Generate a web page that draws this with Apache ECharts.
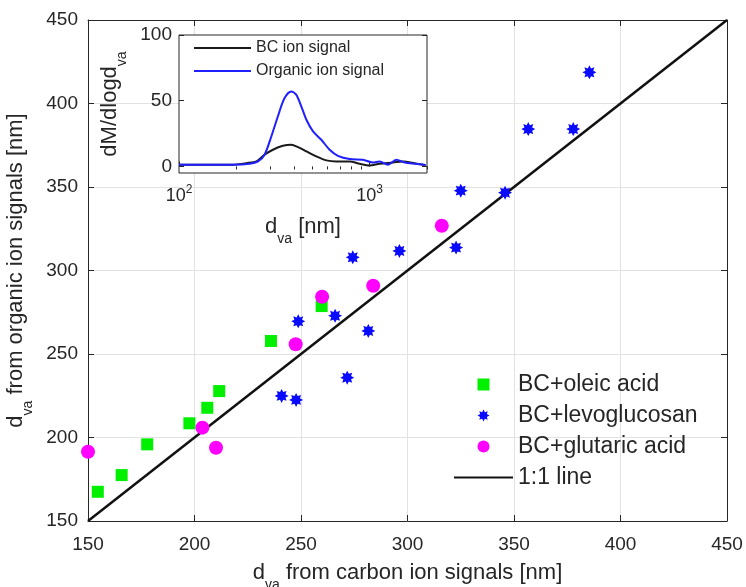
<!DOCTYPE html>
<html><head><meta charset="utf-8">
<script src="https://cdn.jsdelivr.net/npm/echarts@6/dist/echarts.min.js"></script>
<style>html,body{margin:0;padding:0;background:#fff}#c{width:746px;height:587px}</style>
</head><body><div id="c"></div>
<script>
// ---- data ----
const oleicAcid = [[154.6,167.5],[165.8,177.5],[177.8,195.9],[197.6,208.5],[206.0,217.8],[211.6,227.8],[235.9,257.8],[259.7,278.7]];
const levoglucosan = [[240.9,224.9],[247.7,222.5],[271.7,235.8],[248.7,269.6],[266.0,272.9],[281.6,263.8],[274.3,307.9],[296.2,311.7],[322.8,313.7],[325.0,347.8],[345.8,346.6],[356.7,384.7],[377.8,384.7],[385.4,418.7]];
const glutaricAcid = [[150,191.5],[203.7,205.9],[210.1,193.9],[247.5,255.8],[259.9,284.3],[283.9,290.9],[316.1,326.8]];
const oneToOne = [[150,150],[450,450]];

const bcSignal = [[100,1.3],[192,1.3],[225,2.5],[255,3.8],[281,8.9],[311,12.7],[351,15.7],[388,16.5],[421,14.7],[466,11.4],[525,7.6],[593,4.6],[668,3.8],[785,3.8],[887,2.0],[1000,0.8],[1128,2.0],[1325,3.0],[1496,3.8],[1759,2.0],[1967,1.0]];
const organicSignal = [[100,1.3],[139,1.3],[192,1.3],[235,2.0],[260,3.8],[281,8.9],[305,22.8],[330,38],[358,52],[388,57],[412,54.6],[438,45.7],[466,35.5],[505,26.6],[558,20.3],[617,12.7],[682,8.1],[785,5.6],[922,5.1],[1040,3.0],[1128,3.8],[1247,1.3],[1380,5.1],[1528,3.0],[1759,2.0],[1967,1.0]];
const insetMajorX = [100,1000];
const insetMinorX = [200,300,400,500,600,700,800,900,2000];
const insetYTicks = [0,50,100];

// ---- styling helpers ----
const FONT = 'Liberation Sans, Arial, sans-serif';
const TXT = '#262626';
function starPath(n, rOut, rIn){
  let d = '';
  for (let i = 0; i < 2*n; i++){
    const a = i*Math.PI/n - Math.PI/2;
    const r = (i % 2) ? rIn : rOut;
    d += (i ? 'L' : 'M') + (r*Math.cos(a)).toFixed(3) + ' ' + (r*Math.sin(a)).toFixed(3);
  }
  return 'path://' + d + 'Z';
}
const SQUARE = 'path://M0 0L10 0L10 10L0 10Z';
const titleRich = {
  n: {fontSize: 22, lineHeight: 38, verticalAlign: 'middle', color: TXT, fontFamily: FONT},
  s: {fontSize: 14, lineHeight: 14, verticalAlign: 'bottom', color: TXT, fontFamily: FONT}
};

const chart = echarts.init(document.getElementById('c'), null, {renderer: 'canvas'});
const option = {
  animation: false,
  backgroundColor: '#fff',
  textStyle: {fontFamily: FONT},
  grid: [
    {left: 88, right: 19, top: 20, bottom: 66, show: false, containLabel: false, outerBoundsMode: 'none'},
    {left: 179, top: 35, width: 248, height: 138, show: true, backgroundColor: '#fff',
     borderColor: '#262626', borderWidth: 1, z: 5, containLabel: false, outerBoundsMode: 'none'}
  ],
  xAxis: [
    {type: 'value', gridIndex: 0, min: 150, max: 450, interval: 50,
     axisLine: {show: true, onZero: false, lineStyle: {color: TXT, width: 1}},
     axisTick: {show: true, inside: true, length: 6, lineStyle: {color: TXT}},
     axisLabel: {color: TXT, fontSize: 19, margin: 14, fontFamily: FONT},
     splitLine: {show: true, lineStyle: {color: '#e2e2e2', width: 1}},
     name: '{n|d}{s|va}{n| from carbon ion signals [nm]}', nameLocation: 'middle', nameGap: 33,
     nameTextStyle: {rich: titleRich}},
    {type: 'value', gridIndex: 0, min: 150, max: 450, interval: 50, position: 'top',
     axisLine: {show: true, onZero: false, lineStyle: {color: TXT, width: 1}},
     axisTick: {show: true, inside: true, length: 6, lineStyle: {color: TXT}},
     axisLabel: {show: false}, splitLine: {show: false}},
    {type: 'log', gridIndex: 1, min: 100, max: 2000, logBase: 10, z: 6,
     axisLine: {show: false},
     axisTick: {show: true, inside: true, length: 5, customValues: insetMajorX, lineStyle: {color: TXT}},
     axisLabel: {show: true, customValues: insetMajorX, margin: 11,
       formatter: v => '{n|10}{p|' + Math.round(Math.log10(v)) + '}',
       rich: {n: {fontSize: 18, lineHeight: 21, verticalAlign: 'bottom', color: TXT, fontFamily: FONT},
              p: {fontSize: 12, lineHeight: 10, verticalAlign: 'top', color: TXT, fontFamily: FONT}}},
     splitLine: {show: false},
     name: '{n|d}{s|va}{n| [nm]}', nameLocation: 'middle', nameGap: 35,
     nameTextStyle: {rich: titleRich}},
    {type: 'log', gridIndex: 1, min: 100, max: 2000, logBase: 10, z: 6,
     axisLine: {show: false},
     axisTick: {show: true, inside: true, length: 3, customValues: insetMinorX, lineStyle: {color: TXT}},
     axisLabel: {show: false}, splitLine: {show: false}}
  ],
  yAxis: [
    {type: 'value', gridIndex: 0, min: 150, max: 450, interval: 50,
     axisLine: {show: true, onZero: false, lineStyle: {color: TXT, width: 1}},
     axisTick: {show: true, inside: true, length: 6, lineStyle: {color: TXT}},
     axisLabel: {color: TXT, fontSize: 19, margin: 10, fontFamily: FONT},
     splitLine: {show: true, lineStyle: {color: '#e2e2e2', width: 1}},
     name: '{n|d}{s|va}{n| from organic ion signals [nm]}', nameLocation: 'middle', nameGap: 46,
     nameTextStyle: {rich: titleRich}},
    {type: 'value', gridIndex: 0, min: 150, max: 450, interval: 50, position: 'right',
     axisLine: {show: true, onZero: false, lineStyle: {color: TXT, width: 1}},
     axisTick: {show: true, inside: true, length: 6, lineStyle: {color: TXT}},
     axisLabel: {show: false}, splitLine: {show: false}},
    {type: 'value', gridIndex: 1, min: -5, max: 100, z: 6,
     axisLine: {show: false},
     axisTick: {show: true, inside: true, length: 5, customValues: insetYTicks, lineStyle: {color: TXT}},
     axisLabel: {customValues: insetYTicks, color: TXT, fontSize: 19, margin: 7, fontFamily: FONT},
     splitLine: {show: false},
     name: '{n|dM/dlogd}{s|va}', nameLocation: 'middle', nameGap: 50,
     nameTextStyle: {rich: titleRich}},
    {type: 'value', gridIndex: 1, min: -5, max: 100, position: 'right', z: 6,
     axisLine: {show: false},
     axisTick: {show: true, inside: true, length: 5, customValues: insetYTicks, lineStyle: {color: TXT}},
     axisLabel: {show: false}, splitLine: {show: false}}
  ],
  legend: [
    {orient: 'vertical', left: 453, top: 372, padding: 0, itemGap: 6, itemWidth: 59, itemHeight: 12,
     textStyle: {fontSize: 23, lineHeight: 25, color: TXT, fontFamily: FONT},
     data: ['BC+oleic acid', 'BC+levoglucosan', 'BC+glutaric acid',
            {name: '1:1 line', itemStyle: {opacity: 0}}]},
    {orient: 'vertical', left: 193, top: 39, padding: 0, itemGap: 5, itemWidth: 57, itemHeight: 12, z: 8,
     textStyle: {fontSize: 16, lineHeight: 18, color: TXT, fontFamily: FONT},
     data: [{name: 'BC ion signal', itemStyle: {opacity: 0}},
            {name: 'Organic ion signal', itemStyle: {opacity: 0}}]}
  ],
  series: [
    {name: '1:1 line', type: 'line', xAxisIndex: 0, yAxisIndex: 0, data: oneToOne, symbol: 'none',
     lineStyle: {color: '#111', width: 2.5}, itemStyle: {color: '#111', opacity: 0}, z: 2},
    {name: 'BC+oleic acid', type: 'scatter', xAxisIndex: 0, yAxisIndex: 0, data: oleicAcid,
     symbol: SQUARE, symbolSize: 12, itemStyle: {color: '#00f000', opacity: 1}, z: 3},
    {name: 'BC+levoglucosan', type: 'scatter', xAxisIndex: 0, yAxisIndex: 0, data: levoglucosan,
     symbol: starPath(8, 1, 0.6), symbolSize: 14, itemStyle: {color: '#0a0aff', opacity: 1}, z: 3},
    {name: 'BC+glutaric acid', type: 'scatter', xAxisIndex: 0, yAxisIndex: 0, data: glutaricAcid,
     symbol: 'circle', symbolSize: 14, itemStyle: {color: '#ff00ff', opacity: 1}, z: 3, clip: false},
    {name: 'BC ion signal', type: 'line', xAxisIndex: 2, yAxisIndex: 2, data: bcSignal, symbol: 'none',
     smooth: 0.3, lineStyle: {color: '#1a1a1a', width: 2}, itemStyle: {color: '#1a1a1a', opacity: 0}, z: 7},
    {name: 'Organic ion signal', type: 'line', xAxisIndex: 2, yAxisIndex: 2, data: organicSignal, symbol: 'none',
     smooth: 0.3, lineStyle: {color: '#1f1fff', width: 2}, itemStyle: {color: '#1f1fff', opacity: 0}, z: 7}
  ]
};
chart.setOption(option);
</script>
</body></html>
